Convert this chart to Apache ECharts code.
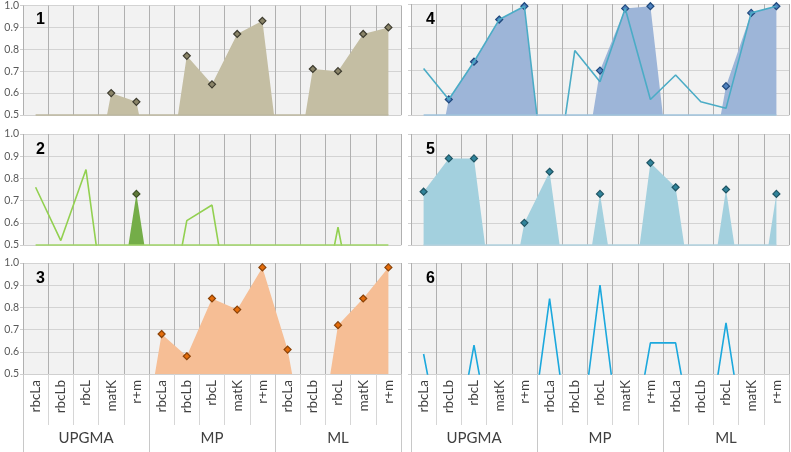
<!DOCTYPE html>
<html>
<head>
<meta charset="utf-8">
<script src="https://cdn.jsdelivr.net/npm/echarts@6/dist/echarts.min.js"></script>
<style>
html,body{margin:0;padding:0;background:#fff;}
#chart{width:791px;height:452px;}
</style>
</head>
<body>
<div id="chart"></div>
<script>
const categories = ['rbcLa','rbcLb','rbcL','matK','r+m','rbcLa','rbcLb','rbcL','matK','r+m','rbcLa','rbcLb','rbcL','matK','r+m'];
const groups = ['UPGMA','MP','ML'];
const panelNames = ['1','2','3','4','5','6'];

const p1Area = [0,0,0,0.60,0.56, 0,0.77,0.64,0.87,0.93, 0,0.71,0.70,0.87,0.90];
const p2Line = [0.76,0.52,0.84,0,0, 0,0.61,0.68,0,0, 0,0,0.58,0,0];
const p2Area = [0,0,0,0,0.73, 0,0,0,0,0, 0,0,0,0,0];
const p3Area = [0,0,0,0,0, 0.68,0.58,0.84,0.79,0.98, 0.61,0,0.72,0.84,0.98];
const p4Area = [0,0.57,0.74,0.93,0.99, 0,0,0.70,0.98,0.99, 0,0,0.63,0.96,0.99];
const p4Line = [0.71,0.57,0.74,0.93,0.99, 0,0.79,0.65,0.98,0.57, 0.68,0.56,0.53,0.96,0.99];
const p5Area = [0.74,0.89,0.89,0,0.60, 0.83,0,0.73,0,0.87, 0.76,0,0.75,0,0.73];
const p6Line = [0.59,0,0.63,0,0, 0.84,0,0.90,0,0.64, 0.64,0,0.73,0,0];

const FONT = 'Lato, "Open Sans", sans-serif';
const lefts = [23, 23, 23, 411, 411, 411];
const tops = [4, 134, 263, 4, 134, 263];
const W = 378, H = 111;
const Y_MIN = 0.5;

const grids = [], xAxes = [], yAxes = [], titles = [];
for (let i = 0; i < 6; i++) {
  const bottomRow = (i === 2 || i === 5);
  const leftCol = i < 3;
  grids.push({left: lefts[i], top: tops[i], width: W, height: H, show: true,
    backgroundColor: '#f2f2f2', borderWidth: 0, containLabel: false});
  xAxes.push({
    type: 'category', gridIndex: i, data: categories, boundaryGap: true,
    axisLine: {show: true, lineStyle: {color: '#d0d0d0', width: 1}},
    axisTick: {show: bottomRow, interval: 0, length: 51, lineStyle: {color: '#d6d6d6'}},
    axisLabel: {show: bottomRow, interval: 0, rotate: 90, margin: 6,
      fontFamily: FONT, fontSize: 13.5, color: '#404040'},
    splitLine: {show: true, interval: 0, lineStyle: {color: '#b0b0b0', width: 1}}
  });
  yAxes.push({
    type: 'value', gridIndex: i, min: Y_MIN, max: 1.0, interval: 0.1,
    axisLine: {show: false},
    axisTick: {show: true, length: 3, lineStyle: {color: '#d0d0d0'}},
    axisLabel: {show: leftCol, margin: 4, fontFamily: FONT, fontSize: 10.5, color: '#595959',
      formatter: v => v.toFixed(1)},
    splitLine: {show: true, lineStyle: {color: '#d3d3d3', width: 1}}
  });
  titles.push({text: panelNames[i], left: lefts[i] + (leftCol ? 8 : 10), top: tops[i] + 3,
    textStyle: {fontFamily: 'Liberation Sans, Arial, sans-serif', fontWeight: 'bold', fontSize: 16, color: '#000'}});
}
// group axes for bottom row
[2, 5].forEach(gi => {
  xAxes.push({
    type: 'category', gridIndex: gi, data: groups, boundaryGap: true, position: 'bottom',
    axisLine: {show: false},
    axisTick: {show: true, interval: 0, length: 78, lineStyle: {color: '#c8c8c8'}},
    axisLabel: {show: true, interval: 0, margin: 57, fontFamily: FONT, fontSize: 15, color: '#404040'},
    splitLine: {show: false}
  });
});

function baseline(color) {
  return {silent: true, symbol: 'none', label: {show: false},
    lineStyle: {color: color, width: 1.5, type: 'solid'},
    data: [[{coord: [0, Y_MIN]}, {coord: [categories.length - 1, Y_MIN]}]]};
}
function areaSeries(idx, data, fill, mFill, mBorder, base) {
  const s = {type: 'line', xAxisIndex: idx, yAxisIndex: idx, data: data, clip: true,
    symbol: 'diamond', symbolSize: 7, showSymbol: true, showAllSymbol: true,
    lineStyle: {width: 0, opacity: 0},
    itemStyle: {color: mFill, borderColor: mBorder, borderWidth: 1.2},
    areaStyle: {color: fill, opacity: 1}, z: 2};
  if (base) s.markLine = baseline(base);
  return s;
}
function lineSeries(idx, data, color, base) {
  const s = {type: 'line', xAxisIndex: idx, yAxisIndex: idx, data: data, clip: true,
    symbol: 'none', showSymbol: false,
    lineStyle: {width: 1.6, color: color}, itemStyle: {color: color}, z: 3};
  if (base) s.markLine = baseline(base);
  return s;
}

const series = [
  areaSeries(0, p1Area, '#c4bea3', '#8a8468', '#3d3b2e', '#bdb79f'),
  areaSeries(1, p2Area, '#74ad48', '#5f7a3a', '#3d4f24'),
  lineSeries(1, p2Line, '#92d050', '#9fd566'),
  areaSeries(2, p3Area, '#f6be95', '#e46c0a', '#8a4208'),
  areaSeries(3, p4Area, '#9db5d8', '#4f81bd', '#1f497d', '#9fc3dc'),
  lineSeries(3, p4Line, '#4bacc6'),
  areaSeries(4, p5Area, '#a3d0de', '#31849b', '#1f5564', '#b1d2df'),
  lineSeries(5, p6Line, '#1ba8dd')
];

const chart = echarts.init(document.getElementById('chart'), null, {renderer: 'canvas'});
chart.setOption({
  animation: false,
  backgroundColor: '#ffffff',
  title: titles,
  grid: grids,
  xAxis: xAxes,
  yAxis: yAxes,
  series: series
});
</script>
</body>
</html>
